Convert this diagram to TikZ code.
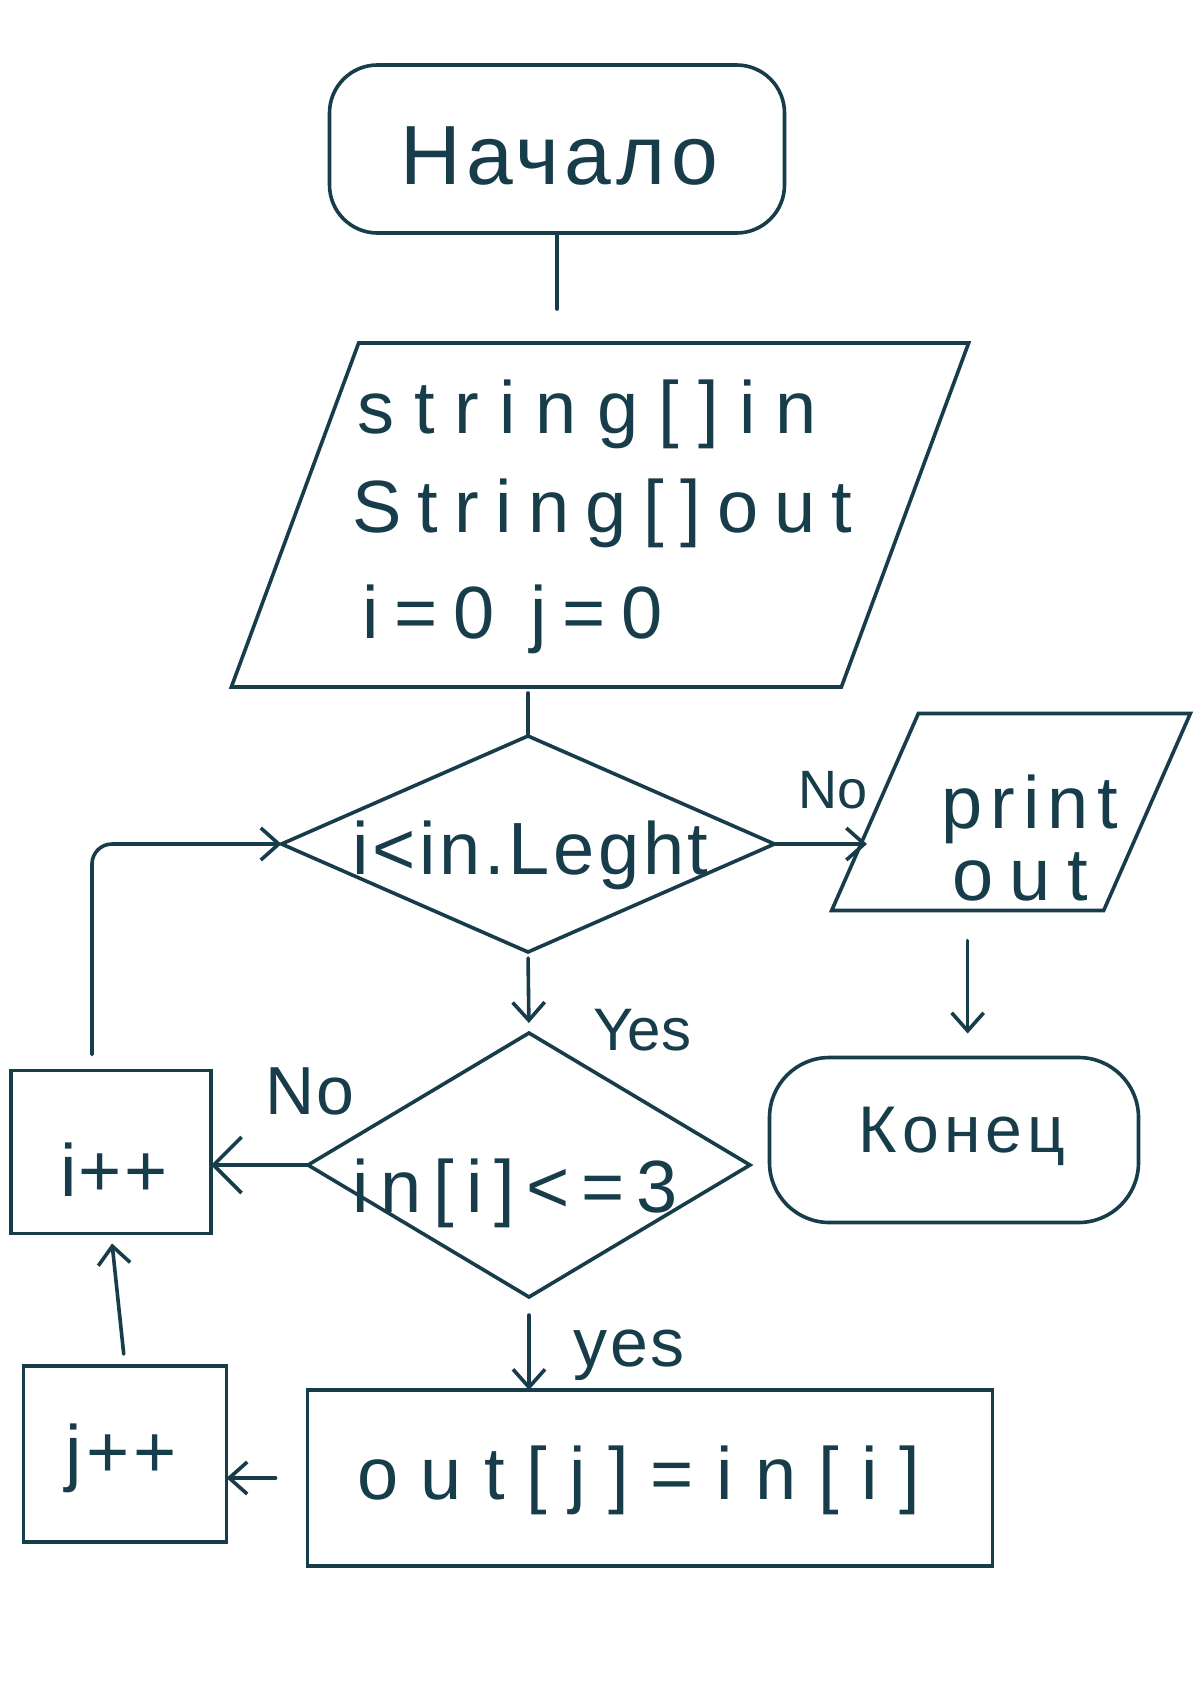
\documentclass[tikz,border=0pt]{standalone}
\usepackage{fontspec}
\setmainfont{Liberation Sans}
\newfontfamily\hand{Liberation Sans}
\usetikzlibrary{shapes.geometric,arrows.meta}
\definecolor{ink}{RGB}{23,60,74}
\newcommand\hw[2]{\hand\fontsize{#1}{#1}\selectfont\addfontfeature{LetterSpace=#2}}
\tikzset{
  shapeline/.style={draw=ink, line width=1.8pt, inner sep=0pt, outer sep=0pt},
  term/.style={shapeline, rectangle, rounded corners=24pt},
  io/.style={shapeline, rectangle, xslant=#1, transform shape},
  decide/.style={shapeline, diamond},
  proc/.style={shapeline, rectangle},
  txt/.style={text=ink, inner sep=0pt, anchor=base west},
  conn/.style={draw=ink, line width=1.8pt, line cap=round, line join=round},
  arr/.style={conn, -{Straight Barb[length=9pt,width=16pt]}},
  bigarr/.style={conn, -{Straight Barb[length=14pt,width=28pt]}},
}
\begin{document}
\begin{tikzpicture}[x=0.5pt,y=-0.5pt]
\useasboundingbox[fill=white] (0,0) rectangle (1200,1697);
% shapes
\node[term, minimum width=227.5pt, minimum height=84pt] (start) at (557,149) {};
\node[io=0.37, minimum width=305pt, minimum height=172pt] (in) at (600,515) {};
\node[decide, minimum width=246.5pt, minimum height=108pt] (d1) at (528,844) {};
\node[io=0.44, minimum width=136pt, minimum height=98.5pt] (print) at (1011,812) {};
\node[term, rounded corners=30pt, minimum width=184.5pt, minimum height=82.5pt] (stop) at (954,1140) {};
\node[decide, minimum width=221pt, minimum height=132pt] (d2) at (529,1165) {};
\node[proc, minimum width=100pt, minimum height=81.5pt] (ipp) at (111,1152) {};
\node[proc, minimum width=101.5pt, minimum height=88pt] (jpp) at (125,1454) {};
\node[proc, minimum width=342.5pt, minimum height=88pt] (out) at (650,1478) {};
% texts
\node[txt, font=\hw{42}{6}] (tstart) at (400,184) {Начало};
\node[txt, font=\hw{37}{27}] (t1) at (357,433) {string[]in};
\node[txt, font=\hw{37}{22}] (t2) at (352,532) {String[]out};
\node[txt, font=\hw{37}{21}] (t3) at (362,638) {i=0 j=0};
\node[txt, font=\hw{37}{5}] (td1) at (352,874) {i<in.Leght};
\node[txt, font=\hw{37}{11}] (tp1) at (941,828) {print};
\node[txt, font=\hw{37}{22}] (tp2) at (952,900) {out};
\node[txt, font=\hw{33}{8}] (tstop) at (858,1152) {Конец};
\node[txt, font=\hw{37}{16}] (td2) at (352,1212) {in[i]<=3};
\node[txt, font=\hw{37}{3}] (tipp) at (60,1196) {i++};
\node[txt, font=\hw{37}{6}] (tjpp) at (65,1477) {j++};
\node[txt, font=\hw{37}{30}] (tout) at (357,1499) {out[j]=in[i]};
% labels
\node[txt, font=\hw{27}{0}] (lno1) at (798,808) {No};
\node[txt, font=\hw{30}{0}] (lyes1) at (593,1050) {Yes};
\node[txt, font=\hw{34}{3}] (lno2) at (265,1114) {No};
\node[txt, font=\hw{34}{4}] (lyes2) at (573,1366) {yes};
% connectors
\draw[conn, shorten >=17pt] (start.south) -- (start.south |- in.north);
\draw[conn, shorten <=3pt] (d1.north |- in.south) -- (d1.north);
\draw[arr, shorten >=4pt] (d1.east) -- (d1.east -| print.west);
\draw[arr, shorten <=15pt, shorten >=12pt] (print.south) -- (print.south |- stop.north);
\draw[arr, shorten <=3pt, shorten >=5pt] (d1.south) -- (d2.north);
\draw[bigarr] (d2.west) -- (d2.west -| ipp.east);
\draw[arr, rounded corners=10pt] ([xshift=-9.5pt,yshift=8pt]ipp.north) |- (d1.west);
\draw[arr, shorten <=9pt] (d2.south) -- (d2.south |- out.north);
\draw[arr, shorten <=16pt] (out.west) -- (out.west -| jpp.east);
\draw[arr, shorten <=6pt, shorten >=5pt] (jpp.north) -- (ipp.south);
\end{tikzpicture}
\end{document}
